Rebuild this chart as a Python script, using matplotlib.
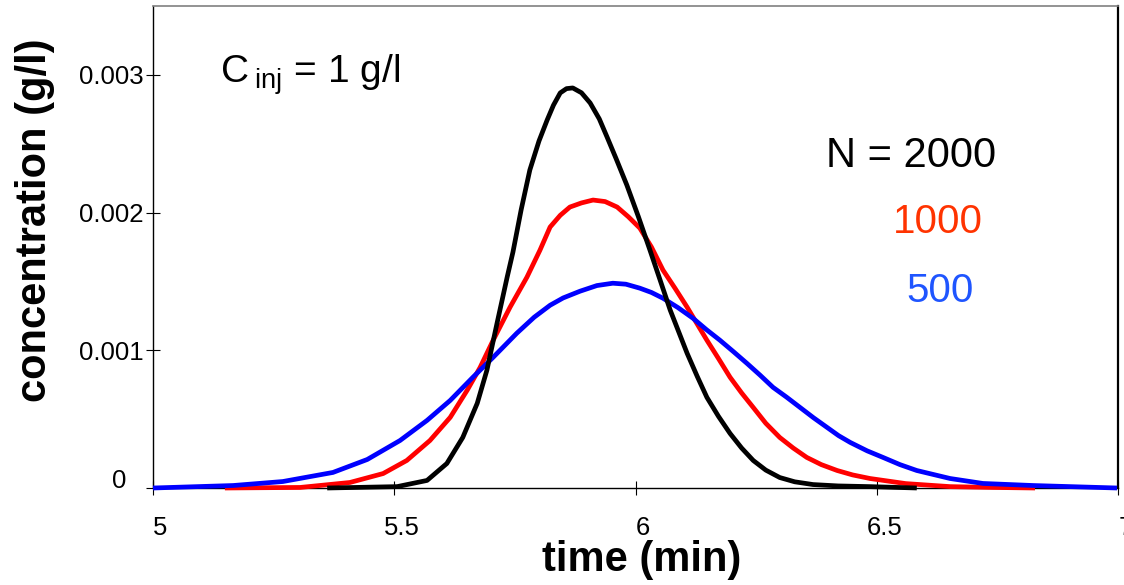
import numpy as np
import matplotlib.pyplot as plt
import matplotlib.transforms as mtransforms

plt.rcParams['font.family'] = ['Liberation Sans', 'DejaVu Sans']
plt.rcParams['mathtext.fontset'] = 'custom'
plt.rcParams['mathtext.rm'] = 'Liberation Sans'

# N = 2000 (black)
t_2000 = [5.361, 5.506, 5.568, 5.609, 5.642, 5.672, 5.692, 5.713, 5.734, 5.746,
          5.763, 5.781, 5.800, 5.817, 5.830, 5.844, 5.857, 5.870, 5.888, 5.906,
          5.925, 5.941, 5.960, 5.982, 6.006, 6.030, 6.051, 6.072, 6.090, 6.107,
          6.128, 6.148, 6.172, 6.196, 6.220, 6.244, 6.270, 6.299, 6.330, 6.368,
          6.420, 6.486, 6.583]
c_2000 = [0.0, 0.00001, 0.000055, 0.000178, 0.000367, 0.000615, 0.000855, 0.001196,
          0.001531, 0.001713, 0.00202, 0.002309, 0.00252, 0.002673, 0.00278,
          0.002869, 0.0029, 0.002905, 0.00287, 0.002796, 0.00268, 0.002549,
          0.00239, 0.0022, 0.00197, 0.001727, 0.00151, 0.001291, 0.00113,
          0.000978, 0.00081, 0.000658, 0.00052, 0.000396, 0.00029, 0.0002,
          0.00013, 0.000076, 0.000045, 0.000025, 0.000015, 0.00001, 0.0]

# N = 1000 (red)
t_1000 = [5.149, 5.305, 5.408, 5.477, 5.526, 5.574, 5.616, 5.651, 5.678, 5.705,
          5.740, 5.775, 5.802, 5.823, 5.844, 5.864, 5.888, 5.912, 5.937, 5.962,
          5.985, 6.009, 6.033, 6.057, 6.082, 6.107, 6.128, 6.148, 6.172, 6.196,
          6.220, 6.244, 6.270, 6.299, 6.327, 6.355, 6.385, 6.418, 6.450, 6.486,
          6.560, 6.652, 6.740, 6.828]
c_1000 = [0.0, 0.000004, 0.00004, 0.000105, 0.0002, 0.000345, 0.000513, 0.000709,
          0.000876, 0.001073, 0.001313, 0.001531, 0.001727, 0.001895, 0.00198,
          0.00204, 0.00207, 0.002091, 0.00208, 0.00204, 0.00197, 0.001887,
          0.00175, 0.001582, 0.00145, 0.001313, 0.00119, 0.001073, 0.00094,
          0.000804, 0.00069, 0.000585, 0.00047, 0.000367, 0.00029, 0.000222,
          0.00017, 0.000127, 0.000095, 0.000069, 0.000032, 0.00001, 0.000004, 0.0]

# N = 500 (blue)
t_500 = [5.0, 5.166, 5.269, 5.373, 5.444, 5.512, 5.568, 5.616, 5.663, 5.705,
         5.754, 5.790, 5.823, 5.850, 5.885, 5.920, 5.953, 5.980, 6.009, 6.033,
         6.057, 6.088, 6.119, 6.147, 6.175, 6.203, 6.231, 6.258, 6.285, 6.313,
         6.341, 6.369, 6.397, 6.421, 6.445, 6.480, 6.513, 6.548, 6.583, 6.652,
         6.720, 6.824, 6.998]
c_500 = [0.0, 0.000018, 0.000047, 0.000113, 0.000207, 0.000345, 0.000491, 0.000636,
         0.000804, 0.000949, 0.001124, 0.00124, 0.001327, 0.00138, 0.001429,
         0.00147, 0.001487, 0.00148, 0.001451, 0.00142, 0.001378, 0.00131,
         0.001233, 0.00115, 0.001073, 0.00099, 0.000905, 0.00082, 0.000731,
         0.00066, 0.000585, 0.00051, 0.00044, 0.00038, 0.000331, 0.00027,
         0.000222, 0.00017, 0.000127, 0.000069, 0.000033, 0.000018, 0.0]

xticks = [5, 5.5, 6, 6.5, 7]
xticklabels = ['5', '5.5', '6', '6.5', '7']
yticks = [0, 0.001, 0.002, 0.003]
yticklabels = ['0', '0.001', '0.002', '0.003']

fig = plt.figure(figsize=(11.24, 5.85), dpi=100)
ax = fig.add_axes([153/1124, 1-488/585, 965/1124, 482/585])

style = dict(lw=3.4, clip_on=False, solid_joinstyle='round', solid_capstyle='butt')
ax.plot(t_1000, c_1000, color='red', zorder=3, **style)
ax.plot(t_500, c_500, color='blue', zorder=4, **style)
ax.plot(t_2000, c_2000, color='black', zorder=5, **style)

ax.set_xlim(5, 7)
ax.set_ylim(0, 0.0035)
ax.set_xticks(xticks)
ax.set_xticklabels(xticklabels)
ax.set_yticks(yticks)
ax.set_yticklabels(yticklabels)
ax.tick_params(axis='both', direction='inout', length=10, width=0.8, labelsize=18.5)
ax.tick_params(axis='x', pad=15)
ax.tick_params(axis='y', pad=2)

for sp in ['left', 'right', 'bottom']:
    ax.spines[sp].set_color('black')
    ax.spines[sp].set_linewidth(1.0)
ax.spines['top'].set_color('#808080')
ax.spines['top'].set_linewidth(1.2)
ax.spines['right'].set_linewidth(1.6)

# shift labels a bit like the original
dx = mtransforms.ScaledTranslation(7.5/100, 0, fig.dpi_scale_trans)
for lab in ax.get_xticklabels():
    lab.set_transform(lab.get_transform() + dx)
zero_lab = ax.get_yticklabels()[0]
zero_lab.set_transform(zero_lab.get_transform() +
                       mtransforms.ScaledTranslation(-17/100, 9/100, fig.dpi_scale_trans))

ax.set_xlabel('time (min)', fontsize=30, fontweight='bold', va='center')
ax.xaxis.set_label_coords(0.506, -0.149)
ax.set_ylabel('concentration (g/l)', fontsize=30, fontweight='bold', va='center')
ax.yaxis.set_label_coords(-0.122, 0.556)

ax.text(0.0694, 0.840, r'$\mathrm{C\,_{inj}}$ = 1 g/l', transform=ax.transAxes,
        fontsize=28, va='baseline', ha='left')
ax.text(0.697, 0.666, 'N = 2000', transform=ax.transAxes, fontsize=30,
        va='baseline', ha='left', color='black')
ax.text(0.767, 0.529, '1000', transform=ax.transAxes, fontsize=29,
        va='baseline', ha='left', color='#ff3300')
ax.text(0.781, 0.386, '500', transform=ax.transAxes, fontsize=29,
        va='baseline', ha='left', color='#1f55ff')

fig.savefig('out.png', dpi=100)
